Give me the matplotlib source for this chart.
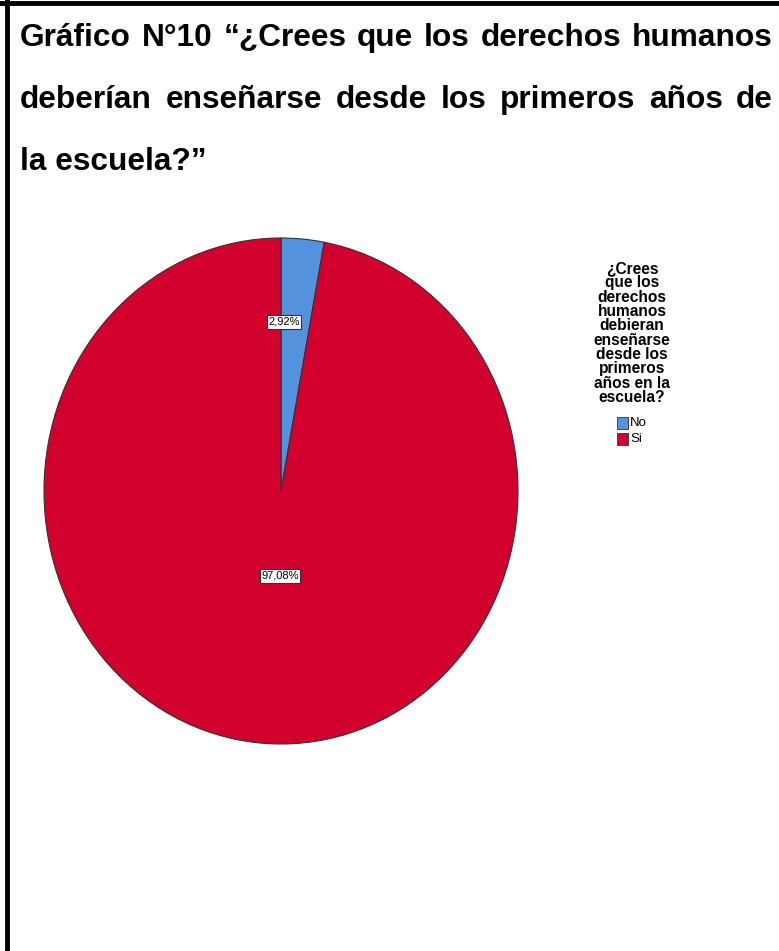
import matplotlib.pyplot as plt
from matplotlib.patches import Rectangle
from matplotlib.lines import Line2D

# data
categories = ["No", "Si"]
percentages = [2.92, 97.08]
colors = ["#5592DE", "#D2002D"]
title_lines = [
    "Gráfico N°10 “¿Crees que los derechos humanos",
    "deberían enseñarse desde los primeros años de",
    "la escuela?”",
]
legend_title = "¿Crees\nque los\nderechos\nhumanos\ndebieran\nenseñarse\ndesde los\nprimeros\naños en la\nescuela?"

W, H = 779, 951
fig = plt.figure(figsize=(W / 100, H / 100), dpi=100)
fig.patch.set_facecolor("white")

# frame lines (top and left)
fig.add_artist(Line2D([0, 1], [1 - 3 / H, 1 - 3 / H], color="black", lw=3.5, transform=fig.transFigure))
fig.add_artist(Line2D([7 / W, 7 / W], [0, 1], color="black", lw=3.5, transform=fig.transFigure))

# title, justified between x=20 and x=773 except the last line
renderer = fig.canvas.get_renderer()
left, right = 20, 773
for i, line in enumerate(title_lines):
    y = 1 - (38 + i * 62) / H
    style = dict(fontsize=22.8, fontweight="bold", family="Liberation Sans", va="center", ha="left")
    if i == len(title_lines) - 1:
        fig.text(left / W, y, line, **style)
        continue
    words = line.split(" ")
    texts = [fig.text(0, y, w, **style) for w in words]
    widths = [t.get_window_extent(renderer).width for t in texts]
    gap = (right - left - sum(widths)) / (len(words) - 1)
    x = left
    for t, w in zip(texts, widths):
        t.set_x(x / W)
        x += w + gap

# pie axes (slightly taller than wide, like the original)
cx, cy, rx, ry = 281, 491, 237, 253
ax = fig.add_axes([(cx - rx) / W, 1 - (cy + ry) / H, 2 * rx / W, 2 * ry / H])
wedges, _ = ax.pie(percentages, colors=colors, startangle=90, counterclock=False,
                   wedgeprops=dict(edgecolor="#333333", linewidth=0.8))
ax.set_aspect("auto")
ax.set_xlim(-1, 1)
ax.set_ylim(-1, 1)
ax.axis("off")

labels = [f"{p:.2f}%".replace(".", ",") for p in percentages]
label_pos = [(284, 322), (280, 576)]
for lab, (x, y) in zip(labels, label_pos):
    fig.text(x / W, 1 - y / H, lab, fontsize=8, family="Liberation Sans", ha="center", va="center",
             bbox=dict(boxstyle="square,pad=0.15", facecolor="white", edgecolor="#333333", linewidth=0.8))

# legend
fig.text(632 / W, 1 - 333 / H, legend_title, fontsize=11.2, fontweight="bold", family="Liberation Sans",
         ha="center", va="center", linespacing=0.95)
for i, (cat, col) in enumerate(zip(categories, colors)):
    y = 423 + i * 16
    fig.add_artist(Rectangle((617 / W, 1 - (y + 6) / H), 11 / W, 12 / H, facecolor=col,
                             edgecolor="#333333", linewidth=0.6, transform=fig.transFigure))
    fig.text(630 / W, 1 - y / H, cat, fontsize=9.5, family="Liberation Sans", ha="left", va="center")

fig.savefig("out.png", dpi=100)
